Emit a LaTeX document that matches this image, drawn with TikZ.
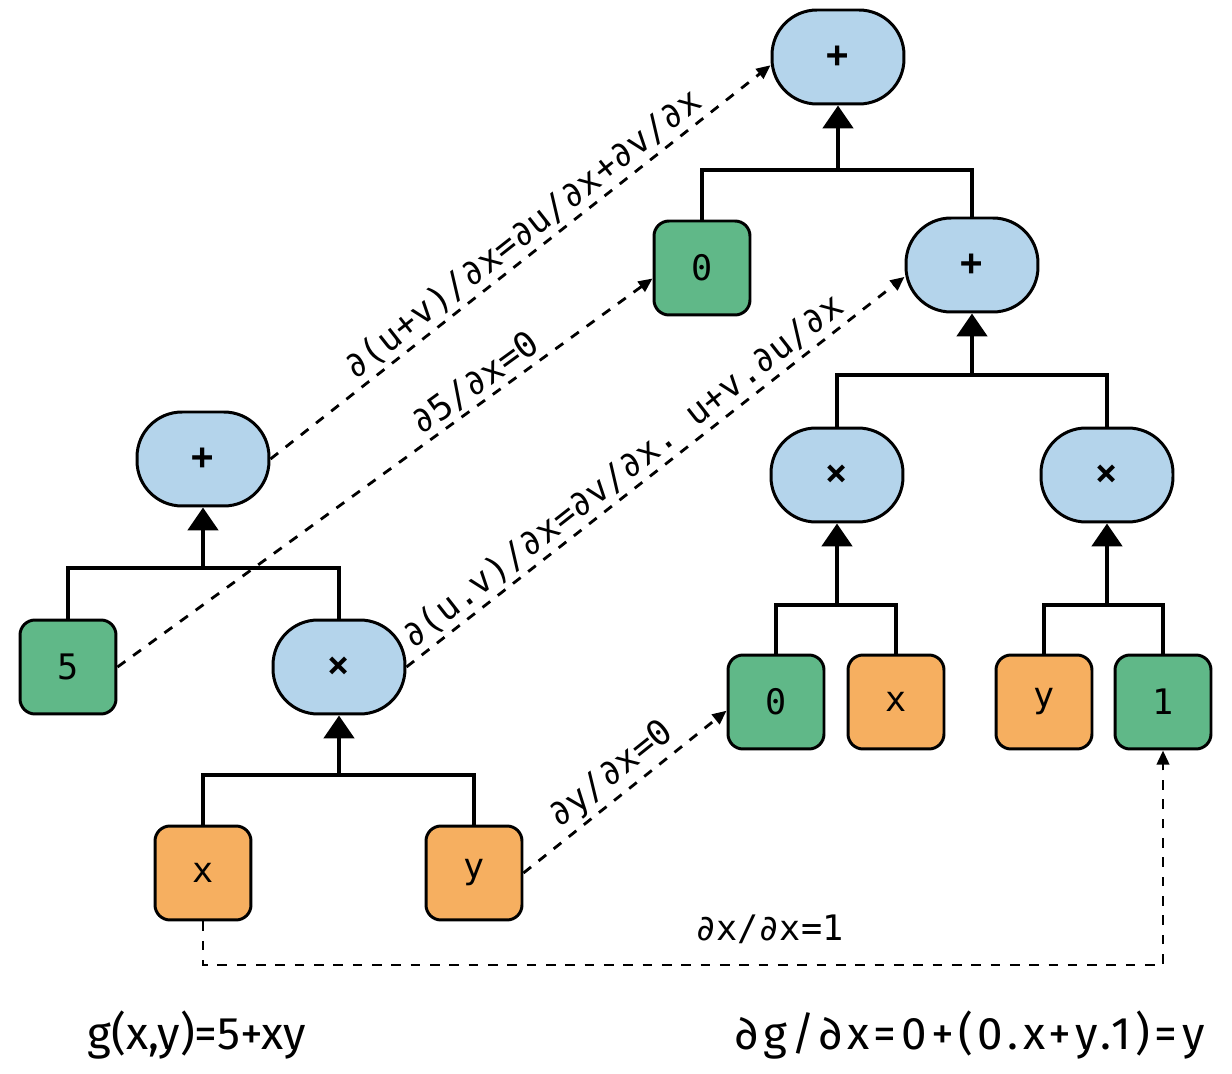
\documentclass[tikz,border=0pt]{standalone}
\usepackage{fontspec}
\setmainfont{Fira Sans}
\setmonofont{DejaVu Sans Mono}
\usepackage{xcolor}
\usetikzlibrary{arrows.meta}
\definecolor{opblue}{RGB}{180,212,235}
\definecolor{constgreen}{RGB}{96,184,136}
\definecolor{varorange}{RGB}{246,175,96}

\begin{document}
\begin{tikzpicture}[x=0.02cm,y=-0.02cm,
	op/.style={draw,line width=1.7pt,fill=opblue,rounded corners=0.9cm,minimum width=2.64cm,minimum height=1.88cm,font=\ttfamily\bfseries\fontsize{21}{21}\selectfont},
	leaf/.style={draw,line width=1.7pt,rounded corners=0.3cm,minimum width=1.92cm,minimum height=1.88cm,font=\ttfamily\fontsize{20}{20}\selectfont},
	const/.style={leaf,fill=constgreen},
	var/.style={leaf,fill=varorange},
	link/.style={line width=2.8pt},
	feed/.style={line width=2.8pt,-{Triangle[length=13pt,width=17pt]}},
	grad/.style={line width=1.6pt,dash pattern=on 5.5pt off 5.5pt,-{Triangle[length=8pt,width=7pt]}},
	lbl/.style={sloped,above,inner sep=2pt,font=\ttfamily\fontsize{20}{20}\selectfont},
	formula/.style={font=\fontsize{26}{30}\selectfont}]
	\useasboundingbox (0,0) rectangle (1232,1074);
	\node[op] (sumL) at (203,459) {+};
	\node[const] (five) at (68,667) {5};
	\node[op] (prodL) at (339,667) {×};
	\node[var] (xL) at (203,873) {x};
	\node[var] (yL) at (474,873) {y};
	\node[op] (sumT) at (838,57) {+};
	\node[const] (zeroT) at (702,268) {0};
	\node[op] (sumM) at (972,265) {+};
	\node[op] (prodA) at (837,475) {×};
	\node[op] (prodB) at (1107,475) {×};
	\node[const] (zeroB) at (776,702) {0};
	\node[var] (xB) at (896,702) {x};
	\node[var] (yB) at (1044,702) {y};
	\node[const] (oneB) at (1163,702) {1};
	\coordinate (jL) at (203,568);
	\coordinate (jLL) at (339,775);
	\coordinate (jT) at (838,170);
	\coordinate (jM) at (972,375);
	\coordinate (jA) at (837,605);
	\coordinate (jB) at (1107,605);
	\coordinate (turn) at (203,965);
	\draw[link] (five.north) |- (jL) -| (prodL.north);
	\draw[feed] (jL) -- (sumL.south);
	\draw[link] (xL.north) |- (jLL) -| (yL.north);
	\draw[feed] (jLL) -- (prodL.south);
	\draw[link] (zeroT.north) |- (jT) -| (sumM.north);
	\draw[feed] (jT) -- (sumT.south);
	\draw[link] (prodA.north) |- (jM) -| (prodB.north);
	\draw[feed] (jM) -- (sumM.south);
	\draw[link] (zeroB.north) |- (jA) -| (xB.north);
	\draw[feed] (jA) -- (prodA.south);
	\draw[link] (yB.north) |- (jB) -| (oneB.north);
	\draw[feed] (jB) -- (prodB.south);
	\draw[grad] (sumL.east) -- node[lbl,pos=0.53] {∂(u+v)/∂x=∂u/∂x+∂v/∂x} (sumT.187);
	\draw[grad] (five.east) -- node[lbl,pos=0.69] {∂5/∂x=0} (zeroT.192);
	\draw[grad] (prodL.east) -- node[lbl,pos=0.46] {∂(u.v)/∂x=∂v/∂x. u+v.∂u/∂x} (sumM.190);
	\draw[grad] (yL.east) -- node[lbl,pos=0.5] {∂y/∂x=0} (zeroB.190);
	\draw[grad] (xL.south) -- (xL.south |- turn) -- node[above=8pt,pos=0.59,font=\ttfamily\fontsize{20}{20}\selectfont] {∂x/∂x=1} (oneB.south |- turn) -- (oneB.south);
	\node[formula] (gfun) at (197,1035) {g(x,y)=5+xy};
	\node[formula] (gdiff) at (970,1035) {\addfontfeatures{LetterSpace=10}∂g/∂x=0+(0.x+y.1)=y};
\end{tikzpicture}
\end{document}
